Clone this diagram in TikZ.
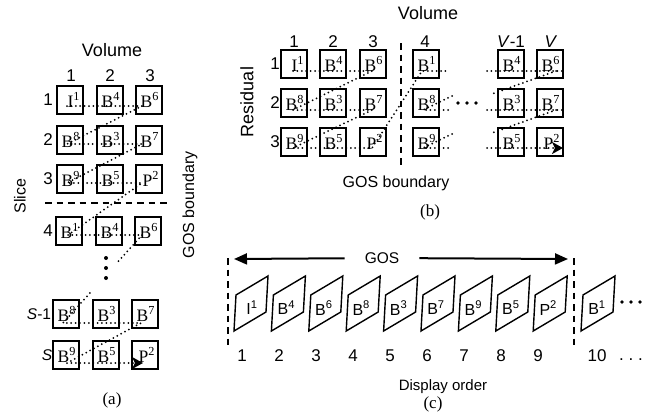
\documentclass[tikz,border=0pt]{standalone}
\usepackage{fontspec}
\setmainfont{Liberation Serif}
\setsansfont{Liberation Sans}
\usetikzlibrary{arrows.meta,calc}

\newcommand{\fr}[2]{#1\textsuperscript{#2}}

\tikzset{
  cell/.style={draw,line width=1.8pt,minimum width=26pt,minimum height=28pt,inner ysep=0pt,inner xsep=3pt,
    text width=20pt,align=right,font=\fontsize{17.5}{19}\selectfont},
  scan/.style={line width=2pt,line cap=round,dash pattern=on 0pt off 4.4pt},
  bound/.style={line width=1.4pt,dash pattern=on 6.5pt off 5pt},
  lbl/.style={font=\sffamily\fontsize{17}{19}\selectfont},
  frm/.style={line width=1.4pt,line join=miter},
  flbl/.style={font=\sffamily\fontsize{16}{18}\selectfont},
  capt/.style={font=\fontsize{17}{19}\selectfont},
  garr/.style={line width=2pt,-{Triangle[length=13pt,width=11pt]}},
  tip/.style={-{Stealth[length=11pt,width=12pt,inset=3pt]}}
}

\begin{document}
\begin{tikzpicture}[x=1pt,y=-1pt]
    \useasboundingbox (0,0) rectangle (661,415);

    % (a)
    \node[lbl,font=\sffamily\fontsize{18}{20}\selectfont] (avol) at (112,50) {Volume};
    \foreach \c/\x in {1/71,2/110,3/150}
        \node[lbl] (acol\c) at (\x,76) {\c};
    \node[lbl] (arow1) at (48,100) {1};
    \node[lbl] (arow2) at (48,140) {2};
    \node[lbl] (arow3) at (48,179) {3};
    \node[lbl] (arow4) at (48,231) {4};
    \node[lbl,font=\sffamily\fontsize{15.5}{17}\selectfont] (arowS1) at (39,314) {\textit{S}-1};
    \node[lbl,font=\sffamily\fontsize{15.5}{17}\selectfont] (arowS) at (47,355) {\textit{S}};
    \node[lbl,rotate=90,font=\sffamily\fontsize{16}{18}\selectfont] (aslice) at (20,196) {Slice};
    \node[lbl,rotate=90,font=\sffamily\fontsize{16}{18}\selectfont] (agos) at (190,205) {GOS boundary};

    \node[cell] (a11) at (70,100) {\fr{I}{1}};
    \node[cell] (a12) at (110,100) {\fr{B}{4}};
    \node[cell] (a13) at (149,100) {\fr{B}{6}};
    \node[cell] (a21) at (70,140) {\fr{B}{8}};
    \node[cell] (a22) at (110,140) {\fr{B}{3}};
    \node[cell] (a23) at (149,140) {\fr{B}{7}};
    \node[cell] (a31) at (70,179) {\fr{B}{9}};
    \node[cell] (a32) at (110,179) {\fr{B}{5}};
    \node[cell] (a33) at (149,179) {\fr{P}{2}};
    \node[cell] (a41) at (69,231) {\fr{B}{1}};
    \node[cell] (a42) at (109,231) {\fr{B}{4}};
    \node[cell] (a43) at (148,231) {\fr{B}{6}};
    \node[cell] (a51) at (66,314) {\fr{B}{8}};
    \node[cell] (a52) at (106,314) {\fr{B}{3}};
    \node[cell] (a53) at (145,314) {\fr{B}{7}};
    \node[cell] (a61) at (66,355) {\fr{B}{9}};
    \node[cell] (a62) at (106,355) {\fr{B}{5}};
    \node[cell] (a63) at (145,355) {\fr{P}{2}};

    \coordinate (abl) at (45,203);
    \coordinate (abr) at (170,203);
    \draw[bound] (abl) -- (abr);

    \coordinate (p1s) at (67,106);  \coordinate (p1e) at (142,106);
    \coordinate (p2s) at (67,144);  \coordinate (p2e) at (142,144);
    \coordinate (p3s) at (67,183);  \coordinate (p3e) at (142,183);
    \coordinate (p4s) at (68,235);  \coordinate (p4e) at (142,235);
    \coordinate (p5s) at (63,323);  \coordinate (p5e) at (141,323);
    \coordinate (p6s) at (67,363);  \coordinate (p6e) at (143,363);
    \draw[scan] (p1s) -- (p1e) -- (p2s) -- (p2e) -- (p3s) -- (p3e) -- (p4s) -- (p4e); %rows 1-4
    \draw[scan] (p4e) -- ($(p4e)!0.3!(p5s)$);
    \draw[scan] ($(p4e)!0.66!(p5s)$) -- (p5s) -- (p5e) -- (p6s);
    \draw[scan,tip] (p6s) -- (p6e); %last row
    \foreach \y in {258,268,278}
        \fill (106,\y) circle (2pt);

    \node[capt] (acap) at (112,400) {(a)};

    % (b)
    \node[lbl,font=\sffamily\fontsize{18}{20}\selectfont] (bvol) at (428,13) {Volume};
    \foreach \c/\x in {1/294,2/333,3/373,4/425}
        \node[lbl] (bcol\c) at (\x,42) {\c};
    \node[lbl] (bcolV1) at (511,42) {\textit{V}-1};
    \node[lbl] (bcolV) at (551,42) {\textit{V}};
    \foreach \r/\y in {1/64,2/103,3/142}
        \node[lbl] (brow\r) at (275,\y) {\r};
    \node[lbl,rotate=90,font=\sffamily\fontsize{18}{20}\selectfont] (bres) at (247,102) {Residual};
    \node[lbl,font=\sffamily\fontsize{16}{18}\selectfont] (bgos) at (396,183) {GOS boundary};

    \foreach \r/\y/\p/\q/\s/\t/\u/\v/\w/\z/\m/\n in
        {1/64/I/1/B/4/B/6/B/1/B/4,
         2/103/B/8/B/3/B/7/B/8/B/3,
         3/142/B/9/B/5/P/2/B/9/B/5}{
        \node[cell] (b\r1) at (294,\y) {\fr{\p}{\q}};
        \node[cell] (b\r2) at (333,\y) {\fr{\s}{\t}};
        \node[cell] (b\r3) at (373,\y) {\fr{\u}{\v}};
        \node[cell] (b\r4) at (426,\y) {\fr{\w}{\z}};
        \node[cell] (b\r5) at (511,\y) {\fr{\m}{\n}};
    }
    \node[cell] (b16) at (550,64) {\fr{B}{6}};
    \node[cell] (b26) at (550,103) {\fr{B}{7}};
    \node[cell] (b36) at (550,142) {\fr{P}{2}};

    \coordinate (bbt) at (401,43);
    \coordinate (bbb) at (401,167);
    \draw[bound] (bbt) -- (bbb);

    \coordinate (q1s) at (293,71);  \coordinate (q1e) at (372,71);
    \coordinate (q2s) at (293,110); \coordinate (q2e) at (372,110);
    \coordinate (q3s) at (293,148); \coordinate (q3e) at (372,148);
    \coordinate (q4s) at (422,71);  \coordinate (q4e) at (448,71);
    \draw[scan] (q1s) -- (q1e) -- (q2s) -- (q2e) -- (q3s) -- (q3e) -- (q4s) -- (q4e); %cols 1-4
    \coordinate (r2s) at (423,110); \coordinate (r2e) at (448,110); \coordinate (r2d) at (452,96);
    \coordinate (r3s) at (423,148); \coordinate (r3e) at (448,148); \coordinate (r3d) at (452,134);
    \draw[scan] (r2d) -- (r2s) -- (r2e);
    \draw[scan] (r3d) -- (r3s) -- (r3e);
    \coordinate (v1s) at (487,71);  \coordinate (v1e) at (562,71);
    \coordinate (v1c) at (556,71);  \coordinate (v1d) at (492,94);
    \coordinate (v2s) at (487,110); \coordinate (v2e) at (562,110);
    \coordinate (v2c) at (556,110); \coordinate (v2d) at (492,133);
    \coordinate (v3s) at (487,148); \coordinate (v3e) at (563,148);
    \draw[scan] (v1s) -- (v1e);
    \draw[scan] (v1c) -- (v1d);
    \draw[scan] (v2s) -- (v2e);
    \draw[scan] (v2c) -- (v2d);
    \draw[scan,tip] (v3s) -- (v3e); %cols V-1, V
    \foreach \x in {458,467,476}
        \fill (\x,103) circle (1.8pt);

    \node[capt] (bcap) at (430,212) {(b)};

    % (c)
    \coordinate (gl) at (234,259);
    \coordinate (gr) at (568,259);
    \node[lbl,font=\sffamily\fontsize{15.5}{17}\selectfont,inner xsep=20pt] (gos) at (382,258) {GOS};
    \draw[garr] (gos) -- (gl);
    \draw[garr] (gos) -- (gr);
    \coordinate (cl1) at (228,258); \coordinate (cl2) at (228,345);
    \coordinate (cr1) at (574,258); \coordinate (cr2) at (574,345);
    \draw[bound] (cl1) -- (cl2);
    \draw[bound] (cr1) -- (cr2);

    \foreach \k/\p/\s/\d in {0/I/1/18,1/B/4/15,2/B/6/15,3/B/8/15,4/B/3/15,5/B/7/15,6/B/9/15,7/B/5/15,8/P/2/15}{
        \draw[frm] ({234+37.4*\k},331) -- ++(2,-36) -- ++(32,-19) -- ++(-2,36) -- cycle;
        \node[flbl] (f\k) at ({234+\d+37.4*\k},308) {\fr{\p}{\s}};
    }
    \draw[frm] (581,331) -- ++(2,-36) -- ++(32,-19) -- ++(-2,36) -- cycle;
    \node[flbl] (f9) at (597,308) {\fr{B}{1}};
    \foreach \x in {622,631,640}
        \fill (\x,302) circle (1.8pt);

    \foreach \n in {1,...,9}
        \node[lbl,font=\sffamily\fontsize{17}{19}\selectfont] (n\n) at ({242+37*(\n-1)},356) {\n};
    \node[lbl,font=\sffamily\fontsize{17}{19}\selectfont] (n10) at (597,356) {10};
    \node[lbl,font=\sffamily\fontsize{17}{19}\selectfont] (ndots) at (631,360) {.\ .\ .};
    \node[lbl,font=\sffamily\fontsize{15}{17}\selectfont] (disp) at (443,387) {Display order};

    \node[capt] (ccap) at (433,404) {(c)};
\end{tikzpicture}
\end{document}
